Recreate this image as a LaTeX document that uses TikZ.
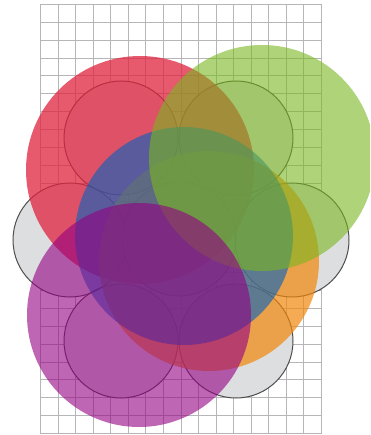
\documentclass[tikz,border=0pt]{standalone}
\definecolor{gridc}{RGB}{182,182,184}
\definecolor{smallfill}{RGB}{221,222,223}
\definecolor{smallline}{RGB}{78,78,78}
\definecolor{cred}{RGB}{224,35,62}
\definecolor{corange}{RGB}{241,134,12}
\definecolor{cblue}{RGB}{0,98,192}
\definecolor{cgreen}{RGB}{122,183,30}
\definecolor{cpurple}{RGB}{147,0,130}
\tikzset{
  gridline/.style={draw=gridc, line width=1pt},
  smallcircfill/.style={fill=smallfill},
  smallcircline/.style={draw=smallline, line width=1pt},
  bigcirc/.style={fill=#1, fill opacity=0.6},
}
\begin{document}
\begin{tikzpicture}[x=1pt,y=-1pt]
\useasboundingbox (0,0) rectangle (370,435);
\clip (0,0) rectangle (370,435);
\fill[white] (0,0) rectangle (370,435);
% grid
\foreach \i in {0,...,16}
  \draw[gridline] ({40.5+17.5625*\i},4.5) -- ({40.5+17.5625*\i},433.5);
\foreach \j in {0,...,24}
  \draw[gridline] (40.5,{4.5+17.875*\j}) -- (321.5,{4.5+17.875*\j});
% small circles
\foreach \p in {(121,138),(236,138),(70,240),(179,239),(292,240),(121,341),(236,341)}
  \fill[smallcircfill] \p circle[radius=57pt];
\foreach \p in {(121,138),(236,138),(70,240),(179,239),(292,240),(121,341),(236,341)}
  \draw[smallcircline] \p circle[radius=57pt];
% big coloured circles
\fill[cred, fill opacity=0.75] (140,170) circle[radius=114pt];
\fill[corange, fill opacity=0.7] (209,261) circle[radius=110pt];
\fill[bigcirc=cblue] (184,236) circle[radius=109pt];
\fill[bigcirc=cgreen] (262,158) circle[radius=113pt];
\fill[bigcirc=cpurple] (139,315) circle[radius=112pt];
\end{tikzpicture}
\end{document}
